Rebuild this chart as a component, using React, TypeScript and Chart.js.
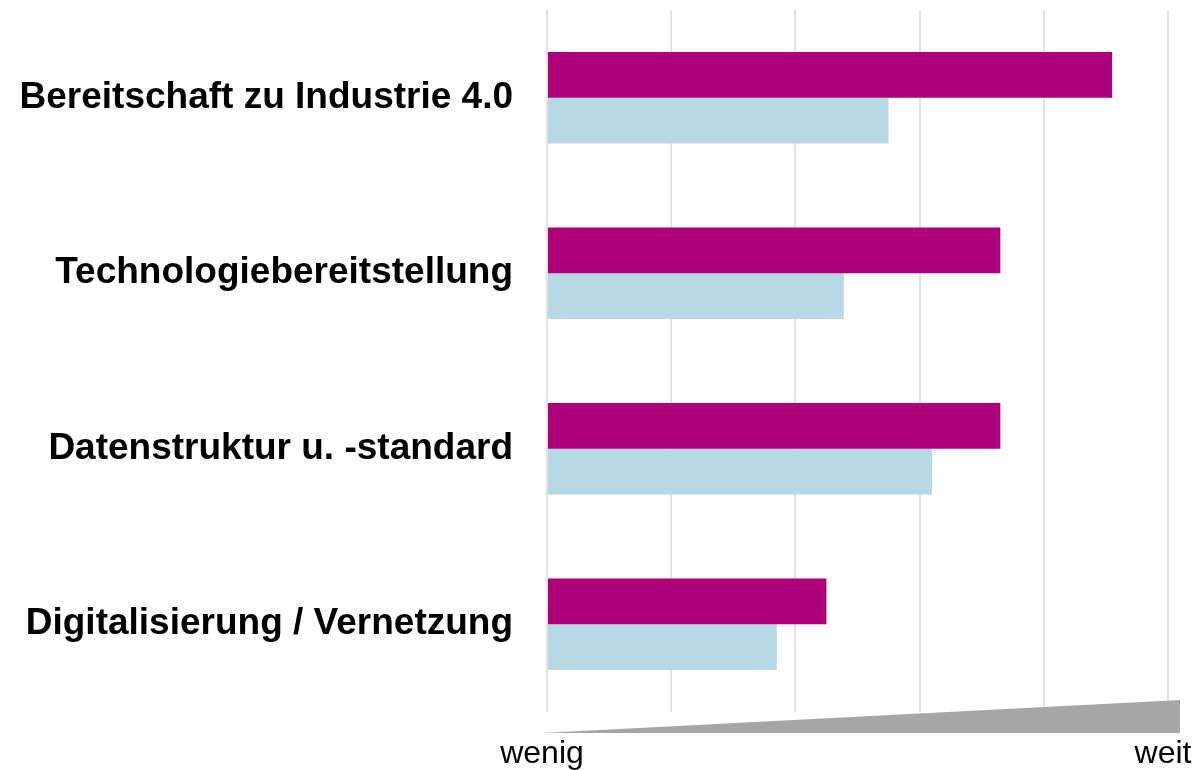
import React, { useEffect, useRef } from "react";
import { Chart, registerables } from "chart.js";

Chart.register(...registerables);

const categories = [
  "Bereitschaft zu Industrie 4.0",
  "Technologiebereitstellung",
  "Datenstruktur u. -standard",
  "Digitalisierung / Vernetzung",
];
const seriesA = [4.55, 3.65, 3.65, 2.25];
const seriesB = [2.75, 2.39, 3.1, 1.85];
const scaleLabels = ["wenig", "weit"];

const wedgePlugin = {
  id: "wedge",
  afterDraw(chart: any) {
    const ctx = chart.ctx;
    const xs = chart.scales.x;
    const area = chart.chartArea;
    const left = xs.getPixelForValue(0) - 5;
    const right = xs.getPixelForValue(5) + 12;
    const bottom = area.bottom + 21;
    const top = area.bottom - 12;
    ctx.save();
    ctx.fillStyle = "#A6A6A6";
    ctx.beginPath();
    ctx.moveTo(left, bottom);
    ctx.lineTo(right, top);
    ctx.lineTo(right, bottom);
    ctx.closePath();
    ctx.fill();
    ctx.fillStyle = "#000";
    ctx.font = "32px 'Liberation Sans', Arial, sans-serif";
    ctx.textBaseline = "alphabetic";
    ctx.textAlign = "center";
    ctx.fillText(scaleLabels[0], left, bottom + 30);
    ctx.fillText(scaleLabels[1], xs.getPixelForValue(5) - 5, bottom + 30);
    ctx.restore();
  },
};

export default function App() {
  const ref = useRef<HTMLCanvasElement>(null);
  useEffect(() => {
    const chart = new Chart(ref.current!, {
      type: "bar",
      data: {
        labels: categories,
        datasets: [
          { data: seriesA, backgroundColor: "#AE007B", categoryPercentage: 0.52, barPercentage: 1 },
          { data: seriesB, backgroundColor: "#B7D9E3", categoryPercentage: 0.52, barPercentage: 1 },
        ],
      },
      options: {
        indexAxis: "y",
        animation: false,
        responsive: false,
        layout: { padding: { top: 10, right: 30, bottom: 58, left: 0 } },
        plugins: { legend: { display: false }, tooltip: { enabled: false } },
        scales: {
          x: {
            min: 0,
            max: 5,
            ticks: { display: false, stepSize: 1 },
            grid: { color: "#E3E3E3", lineWidth: 2, drawTicks: false },
            border: { display: false },
            afterFit(scale: any) {
              scale.height = 0;
              scale.paddingLeft = 0;
              scale.paddingRight = 0;
            },
          },
          y: {
            grid: { display: false },
            border: { display: false },
            ticks: {
              color: "#000",
              padding: 26,
              font: { family: "'Liberation Sans', Arial, sans-serif", size: 37, weight: "bold" },
            },
            afterFit(scale: any) {
              scale.width = 547;
              scale.paddingTop = 0;
              scale.paddingBottom = 0;
            },
          },
        },
      },
      plugins: [wedgePlugin],
    } as any);
    return () => chart.destroy();
  }, []);
  return (
    <div style={{ position: "absolute", left: 0, top: 0, width: 1198, height: 770 }}>
      <canvas ref={ref} width={1198} height={770} />
    </div>
  );
}
